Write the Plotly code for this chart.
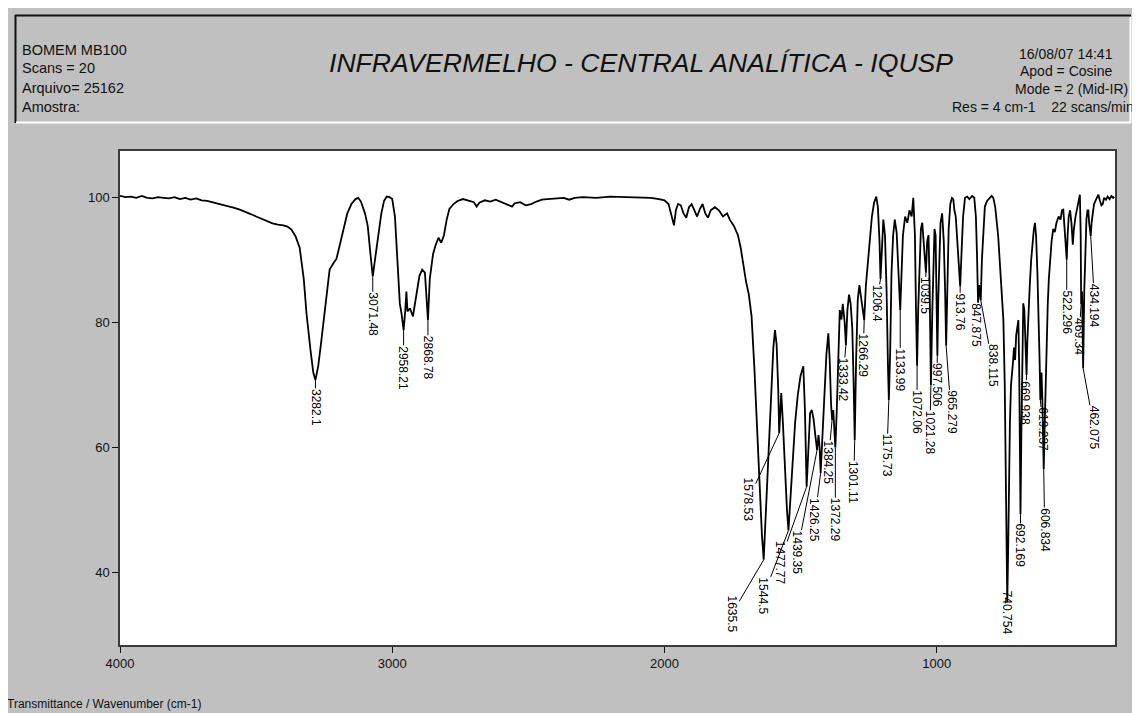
import plotly.graph_objects as go

# ---------------- data ----------------
wavenumber = [
    4000, 3980, 3960, 3940, 3920, 3900, 3880, 3860, 3840, 3820, 3800, 3780, 3760, 3740, 3720,
    3700, 3680, 3660, 3640, 3620, 3600, 3580, 3560, 3540, 3520, 3500, 3480, 3460, 3440, 3420,
    3400, 3385, 3370, 3355, 3340, 3325, 3315, 3300, 3290, 3282.1, 3272, 3262, 3254, 3240, 3230,
    3215, 3205, 3195, 3180, 3165, 3150, 3135, 3125, 3115, 3100, 3090, 3080, 3071.48, 3062, 3050,
    3040, 3030, 3020, 3010, 3000, 2990, 2980, 2972, 2966, 2958.21, 2952, 2948, 2944, 2935, 2924,
    2910, 2900, 2890, 2880, 2874, 2868.78, 2862, 2850, 2840, 2830, 2820, 2810, 2800, 2790, 2775,
    2760, 2740, 2720, 2700, 2690, 2680, 2660, 2640, 2620, 2600, 2580, 2560, 2550, 2530, 2510,
    2490, 2470, 2450, 2430, 2400, 2370, 2350, 2330, 2300, 2250, 2200, 2150, 2100, 2050, 2020,
    2000, 1985, 1972, 1965, 1958, 1950, 1940, 1930, 1920, 1910, 1900, 1890, 1880, 1870, 1860,
    1850, 1840, 1830, 1815, 1800, 1785, 1770, 1760, 1745, 1730, 1720, 1710, 1700, 1690, 1680,
    1670, 1660, 1650, 1642, 1635.5, 1628, 1620, 1610, 1600, 1594, 1588, 1582, 1578.53, 1574, 1571,
    1565, 1558, 1550, 1544.5, 1538, 1530, 1520, 1510, 1500, 1490, 1484, 1477.77, 1470, 1465,
    1459, 1452, 1446, 1439.35, 1434, 1430, 1426.25, 1420, 1413, 1405, 1398, 1393, 1388, 1384.25, 1380,
    1376, 1372.29, 1367, 1362, 1356, 1350, 1345, 1338, 1333.42, 1328, 1322, 1316, 1310, 1305, 1301.11,
    1296, 1290, 1284, 1278, 1272, 1266.29, 1260, 1252, 1245, 1238, 1230, 1222, 1216, 1210, 1206.4,
    1200, 1196, 1190, 1184, 1179, 1175.73, 1171, 1166, 1160, 1154, 1147, 1142, 1138, 1133.99, 1129,
    1124, 1116, 1108, 1100, 1092, 1086, 1080, 1076, 1072.06, 1068, 1063, 1058, 1053, 1048, 1043,
    1039.5, 1035, 1030, 1026, 1021.28, 1016, 1012, 1008, 1004, 1000, 997.506, 994, 990, 986, 980,
    974, 969, 965.279, 961, 956, 950, 944, 939, 935, 930, 925, 920, 913.76, 908, 903,
    896, 888, 880, 870, 862, 856, 852, 847.875, 844, 841, 838.115, 834, 829, 823, 815,
    806, 798, 792, 785, 774, 768, 762, 755, 750, 746, 743, 740.754, 738, 735, 731,
    727, 724, 720, 716, 712, 708, 704, 700, 697, 694, 692.169, 689, 685, 682, 678,
    674, 671, 669.938, 667, 663, 658, 653, 648, 643, 639, 635, 630, 626, 622, 619.237,
    615, 612, 609, 606.834, 603, 598, 592, 588, 584, 578, 572, 566, 560, 552, 545,
    540, 535, 530, 526, 522.296, 519, 515, 510, 505, 500, 496, 490, 484, 478, 474,
    471, 469.34, 466, 462.075, 458, 454, 450, 446, 443, 440, 437, 434.194, 431, 427, 422,
    416, 410, 406, 400, 395, 390, 385, 378, 372, 365, 358, 352, 348,
]
transmittance = [
    100.3, 100.1, 100.2, 100.0, 100.3, 100.0, 99.9, 100.1, 100.0, 99.9, 100.1, 99.8, 100.0, 99.7, 99.9,
    99.6, 99.5, 99.3, 99.0, 98.8, 98.6, 98.4, 98.1, 97.8, 97.4, 97.0, 96.6, 96.2, 95.9, 95.7,
    95.6, 95.4, 94.9, 93.8, 92.0, 87.0, 81.5, 75.5, 72.0, 70.8, 73.0, 76.5, 79.5, 85.5, 88.5,
    89.6, 90.2, 92.0, 95.0, 97.5, 99.0, 99.8, 100.0, 99.4, 97.5, 95.5, 91.0, 87.4, 90.5, 94.5,
    97.5, 99.5, 100.2, 100.1, 99.8, 97.0, 90.0, 83.0, 81.5, 78.8, 82.0, 85.0, 81.8, 82.3, 81.0,
    84.5, 87.5, 88.5, 88.0, 84.0, 80.4, 87.0, 91.0, 92.5, 93.6, 92.8, 94.0, 96.5, 98.2, 99.0,
    99.5, 99.8, 99.6, 99.3, 98.6, 99.2, 99.6, 99.4, 99.7, 99.3, 99.0, 98.6, 99.1, 99.3, 98.8,
    99.0, 99.4, 99.7, 99.8, 99.9, 100.0, 99.7, 100.0, 100.1, 100.0, 100.2, 100.1, 100.0, 100.0, 99.8,
    99.6, 99.0, 97.0, 95.6, 98.0, 99.0, 98.8, 97.5, 96.8, 98.5, 99.0, 98.0, 97.0, 98.2, 99.0,
    97.5, 96.8, 98.0, 98.5, 98.0, 97.0, 97.5, 96.5, 95.5, 94.0, 92.0, 89.0, 86.5, 84.5, 81.0,
    73.0, 63.0, 53.0, 46.0, 42.0, 49.0, 58.0, 68.0, 76.0, 78.8, 76.5, 69.2, 62.3, 66.0, 68.7,
    64.0, 57.0, 50.0, 46.7, 51.0, 58.0, 64.0, 68.5, 71.5, 73.0, 66.0, 53.7, 60.0, 65.5,
    66.0, 64.5, 62.0, 59.6, 62.0, 60.0, 55.9, 62.0, 69.0, 75.0, 78.3, 74.0, 67.0, 64.4, 66.0,
    63.0, 60.0, 66.0, 74.0, 82.0, 80.5, 83.0, 80.0, 76.4, 82.0, 84.5, 83.0, 79.0, 70.0, 61.2,
    74.0, 83.6, 86.0, 84.0, 82.5, 80.4, 86.0, 90.5, 93.8, 97.0, 99.2, 100.2, 98.5, 93.0, 87.0,
    94.0, 96.5, 94.0, 85.0, 73.0, 67.6, 75.0, 88.0, 94.0, 96.5, 94.4, 90.0, 86.0, 82.0, 88.0,
    94.0, 97.0, 96.0, 98.0, 97.0, 100.0, 94.0, 82.0, 73.1, 82.0, 90.0, 95.0, 96.0, 93.0, 90.0,
    88.0, 93.0, 94.0, 86.0, 70.0, 82.0, 91.0, 95.0, 94.0, 83.0, 74.7, 84.0, 92.0, 96.0, 97.5,
    93.0, 85.0, 76.3, 85.0, 95.0, 99.0, 100.0, 99.8, 98.0, 97.0, 94.0, 90.0, 85.8, 92.0, 97.0,
    100.0, 100.2, 99.8, 100.3, 100.0, 97.0, 91.0, 83.2, 86.0, 85.0, 83.6, 90.0, 95.0, 98.6, 99.5,
    100.0, 100.3, 100.0, 98.5, 93.8, 89.0, 85.0, 80.4, 70.0, 58.0, 45.0, 35.2, 42.0, 55.0, 64.0,
    70.0, 72.4, 73.5, 76.0, 74.0, 78.0, 79.0, 80.4, 73.0, 60.0, 49.3, 62.0, 76.0, 83.1, 82.0,
    78.0, 74.0, 71.6, 77.0, 82.0, 86.0, 90.0, 93.0, 95.0, 96.0, 94.0, 88.0, 82.0, 74.0, 67.6,
    72.0, 68.0, 62.0, 56.5, 64.0, 74.0, 83.0, 87.0, 89.6, 93.0, 95.0, 94.5, 96.0, 97.0, 96.5,
    98.0, 98.1, 95.0, 91.0, 90.1, 94.0, 97.0, 98.0, 96.0, 92.5, 95.0, 97.0, 98.5, 99.5, 100.5,
    94.0, 83.0, 85.0, 72.7, 85.0, 93.0, 96.5, 98.0, 98.0, 96.0, 95.0, 93.9, 96.0, 97.5, 99.0,
    99.6, 100.2, 100.5, 99.5, 98.8, 99.0, 100.0, 99.7, 100.2, 99.8, 100.3, 100.0, 100.2,
]

peak_labels = ["3282.1", "3071.48", "2958.21", "2868.78", "1635.5", "1578.53", "1544.5",
               "1477.77", "1439.35", "1426.25", "1384.25", "1372.29", "1333.42", "1301.11",
               "1266.29", "1206.4", "1175.73", "1133.99", "1072.06", "1039.5", "1021.28",
               "997.506", "965.279", "913.76", "847.875", "838.115", "740.754", "692.169",
               "669.938", "619.237", "606.834", "522.296", "469.34", "462.075", "434.194"]
peak_wn = [3282.1, 3071.48, 2958.21, 2868.78, 1635.5, 1578.53, 1544.5,
           1477.77, 1439.35, 1426.25, 1384.25, 1372.29, 1333.42, 1301.11,
           1266.29, 1206.4, 1175.73, 1133.99, 1072.06, 1039.5, 1021.28,
           997.506, 965.279, 913.76, 847.875, 838.115, 740.754, 692.169,
           669.938, 619.237, 606.834, 522.296, 469.34, 462.075, 434.194]
peak_T = [70.8, 87.4, 78.8, 80.4, 42.0, 62.3, 46.7,
          53.7, 59.6, 55.9, 64.4, 60.0, 76.4, 61.2,
          80.4, 87.0, 67.6, 82.0, 73.1, 88.0, 70.0,
          74.7, 76.3, 85.8, 83.2, 83.6, 35.2, 49.3,
          71.6, 67.6, 56.5, 90.1, 83.0, 72.7, 93.9]

# label placement: offset (px) from the peak to the top of each label
label_dx = [0, 0, 0, 0, -32, -31, -25,
            -27, -20, -6, -4, 0, -3, -1,
            -1, -4, -2, 0, 0, -1, -1,
            -1, 5, 0, -2, 12, 0, 0,
            -1, 3, 1, 0, -2, 11, 4]
label_dy = [8, 15, 15, 15, 35, 44, 46,
            53, 80, 24, 20, 50, 12, 20,
            13, 5, 33, 37, 24, 4, 25,
            7, 44, 6, 0, 43, -12, 9,
            5, 7, 38, 30, 13, 37, 47]

x_ticks = [4000, 3000, 2000, 1000]
y_ticks = [40, 60, 80, 100]

header_left = ["BOMEM MB100", "Scans = 20", "Arquivo= 25162", "Amostra:"]
header_right = ["16/08/07 14:41", "Apod = Cosine", "Mode = 2 (Mid-IR)", "Res = 4 cm-1    22 scans/min"]
title_text = "INFRAVERMELHO - CENTRAL ANALÍTICA - IQUSP"
footer_text = "Transmittance / Wavenumber (cm-1)"

# ---------------- layout geometry ----------------
W, H = 1140, 713
PAGE = 8                       # page margin of the html body (screen offset)
ML, MR, MT, MB = 112, 33, 143, 76
PW, PH = W - ML - MR, H - MT - MB
GREY = "#c0c0c0"
FONT = "Arial, Liberation Sans, Helvetica, sans-serif"


def px(xs):
    """screen x (px) -> paper x"""
    return (xs - PAGE - ML) / PW


def py(ys):
    """screen y (px) -> paper y"""
    return (H - MB - (ys - PAGE)) / PH


def text_len(s, size=12):
    return sum((0.278 if c == "." else 0.556) * size for c in s)


fig = go.Figure()
fig.add_trace(go.Scatter(x=wavenumber, y=transmittance, mode="lines",
                         line=dict(color="black", width=1.8), hoverinfo="skip",
                         showlegend=False))

annotations = []
for lab, xw, yt, dx, dy in zip(peak_labels, peak_wn, peak_T, label_dx, label_dy):
    L = text_len(lab)
    annotations.append(dict(
        x=xw, y=yt, xref="x", yref="y", text=lab, textangle=90,
        showarrow=True, arrowhead=0, arrowwidth=1,
        arrowcolor="black" if dy > 0 else "rgba(0,0,0,0)",
        ax=dx, ay=dy + L / 2 + 1, borderpad=0,
        font=dict(family=FONT, size=12, color="black")))

# header texts
left_y = [50, 68.5, 88, 107]
for t, yy in zip(header_left, left_y):
    annotations.append(dict(x=px(20), y=py(yy), xref="paper", yref="paper", text=t,
                            showarrow=False, xanchor="left", yanchor="middle",
                            font=dict(family=FONT, size=14.5, color="#111")))
right_x = [1066, 1066, 1071, 950]
right_anchor = ["center", "center", "center", "left"]
right_y = [54, 71, 89, 107]
for t, xx, an, yy in zip(header_right, right_x, right_anchor, right_y):
    annotations.append(dict(x=px(xx), y=py(yy), xref="paper", yref="paper", text=t,
                            showarrow=False, xanchor=an, yanchor="middle",
                            font=dict(family=FONT, size=14, color="#111")))
annotations.append(dict(x=px(640.5), y=py(63), xref="paper", yref="paper",
                        text="<i>" + title_text + "</i>", showarrow=False,
                        xanchor="center", yanchor="middle",
                        font=dict(family=FONT, size=26.6, color="#111")))
annotations.append(dict(x=px(5), y=py(704), xref="paper", yref="paper", text=footer_text,
                        showarrow=False, xanchor="left", yanchor="middle",
                        font=dict(family=FONT, size=12, color="#111")))

shapes = [
    # header box bevel (dark top/left, light bottom/right)
    dict(type="line", xref="paper", yref="paper", x0=px(15), x1=px(1131), y0=py(15.5), y1=py(15.5),
         line=dict(color="#111", width=2)),
    dict(type="line", xref="paper", yref="paper", x0=px(15.5), x1=px(15.5), y0=py(15), y1=py(123),
         line=dict(color="#111", width=2)),
    dict(type="line", xref="paper", yref="paper", x0=px(16), x1=px(1131), y0=py(122.5), y1=py(122.5),
         line=dict(color="white", width=2)),
    dict(type="line", xref="paper", yref="paper", x0=px(1130.5), x1=px(1130.5), y0=py(17), y1=py(123),
         line=dict(color="white", width=2)),
]

axis_common = dict(showgrid=False, zeroline=False, showline=True, linecolor="#3a3a3a",
                   linewidth=1.5, mirror=True, ticks="outside", ticklen=6, tickwidth=1.2,
                   tickcolor="#111", tickfont=dict(family=FONT, size=13, color="#111"))

fig.update_layout(
    width=W, height=H, autosize=False,
    paper_bgcolor=GREY, plot_bgcolor="white",
    margin=dict(l=ML, r=MR, t=MT, b=MB, pad=0),
    showlegend=False,
    xaxis=dict(range=[4000, 345], tickvals=x_ticks, ticktext=[str(v) for v in x_ticks],
               **axis_common),
    yaxis=dict(range=[28.35, 107.5], tickvals=y_ticks, ticktext=[str(v) for v in y_ticks],
               **axis_common),
    annotations=annotations,
    shapes=shapes,
)

fig.write_html("out.html")
